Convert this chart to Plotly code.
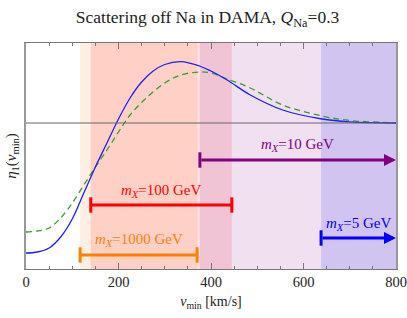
import plotly.graph_objects as go

# ---- data ----
v_blue = [0, 25, 50, 75, 100, 125, 150, 175, 200, 225, 250, 275, 300, 335, 375, 400, 435, 485, 555, 640, 700, 800]
eta_blue = [-1.30, -1.29, -1.25, -1.14, -0.96, -0.70, -0.44, -0.20, 0.04, 0.25, 0.41, 0.52, 0.585, 0.613,
            0.57, 0.52, 0.43, 0.28, 0.13, 0.04, 0.012, 0.0]
v_green = [0, 25, 50, 75, 100, 125, 150, 175, 200, 225, 260, 300, 335, 375, 400, 435, 485, 555, 640, 700, 770, 800]
eta_green = [-1.09, -1.08, -1.05, -0.95, -0.80, -0.62, -0.44, -0.27, -0.09, 0.08, 0.25, 0.40, 0.48, 0.51,
             0.50, 0.44, 0.35, 0.18, 0.07, 0.025, 0.006, 0.0]

masses = ["1000", "100", "10", "5"]
v_lo = [117, 140, 376, 638]
v_hi = [370, 445, 800, 800]
open_ended = [False, False, True, True]
bar_colors = ["#FF7F00", "#FF0000", "#800080", "#0000FF"]
region_fills = ["rgba(255,140,60,0.15)", "rgba(255,0,0,0.12)", "rgba(128,0,128,0.12)", "rgba(0,0,255,0.12)"]
bar_levels = [-1.32, -0.82, -0.37, -1.15]
label_levels = [-1.17, -0.68, -0.22, -1.01]

x_ticks = [0, 200, 400, 600, 800]

SERIF = "Liberation Serif, Times New Roman, serif"

fig = go.Figure()

# shaded regions
for lo, hi, fc in zip(v_lo, v_hi, region_fills):
    fig.add_shape(type="rect", x0=lo, x1=hi, y0=0, y1=1, yref="paper", xref="x",
                  fillcolor=fc, line_width=0, layer="below")

# zero line
fig.add_shape(type="line", x0=0, x1=800, y0=0, y1=0, xref="x", yref="y",
              line=dict(color="#666666", width=1.2))

fig.add_trace(go.Scatter(x=v_green, y=eta_green, mode="lines", line_shape="spline",
                         line=dict(color="#33A02C", width=1.3, dash="6px,4px"), hoverinfo="skip"))
fig.add_trace(go.Scatter(x=v_blue, y=eta_blue, mode="lines", line_shape="spline",
                         line=dict(color="#2020F0", width=1.3), hoverinfo="skip"))

for m, lo, hi, oe, c, yl, yt in zip(masses, v_lo, v_hi, open_ended, bar_colors, bar_levels, label_levels):
    if oe:
        fig.add_trace(go.Scatter(x=[lo], y=[yl], mode="markers",
                                 marker=dict(symbol="line-ns", size=11, line=dict(color=c, width=3)),
                                 hoverinfo="skip"))
        fig.add_annotation(x=hi, y=yl, ax=lo, ay=yl, xref="x", yref="y", axref="x", ayref="y",
                           showarrow=True, arrowhead=2, arrowsize=0.8, arrowwidth=3,
                           arrowcolor=c, text="")
    else:
        fig.add_trace(go.Scatter(x=[lo, hi], y=[yl, yl], mode="lines+markers",
                                 line=dict(color=c, width=3),
                                 marker=dict(symbol="line-ns", size=11, line=dict(color=c, width=3)),
                                 hoverinfo="skip"))
    fig.add_annotation(x=(lo + hi) / 2, y=yt, xref="x", yref="y", showarrow=False,
                       text=f"<i>m</i><sub><i>X</i></sub>={m} GeV",
                       font=dict(family=SERIF, size=15, color=c))

fig.update_layout(
    width=407, height=318,
    margin=dict(l=26, r=11, t=43, b=49, autoexpand=False),
    paper_bgcolor="white", plot_bgcolor="white",
    showlegend=False,
    title=dict(text="Scattering off Na in DAMA, <i>Q</i><sub>Na</sub>=0.3",
               x=0.51, xanchor="center", y=0.946, yanchor="middle", yref="container",
               font=dict(family=SERIF, size=17.5, color="#222"), automargin=False),
    xaxis=dict(range=[0, 800], showgrid=False, zeroline=False, automargin=False,
               showline=True, linecolor="#777", linewidth=1, mirror="ticks",
               ticks="inside", ticklen=6, tickcolor="#777",
               tickvals=x_ticks, ticktext=[str(t) for t in x_ticks],
               minor=dict(dtick=50, ticks="inside", ticklen=3, tickcolor="#777"),
               tickfont=dict(family=SERIF, size=14.5, color="#222"),
               title=dict(text="<i>v</i><sub>min</sub> [km/s]", standoff=6,
                          font=dict(family=SERIF, size=14, color="#222"))),
    yaxis=dict(range=[-1.46, 0.8], showgrid=False, zeroline=False, automargin=False,
               showline=True, linecolor="#999", linewidth=1.5, mirror=True,
               ticks="", showticklabels=False,
               title=dict(text="<i>η</i><sub>1</sub>(<i>v</i><sub>min</sub>)", standoff=4,
                          font=dict(family=SERIF, size=15, color="#222"))),
)

fig.write_html("out.html", config={"displayModeBar": False},
               post_script="document.body.style.margin='0';document.body.style.overflow='hidden';")
